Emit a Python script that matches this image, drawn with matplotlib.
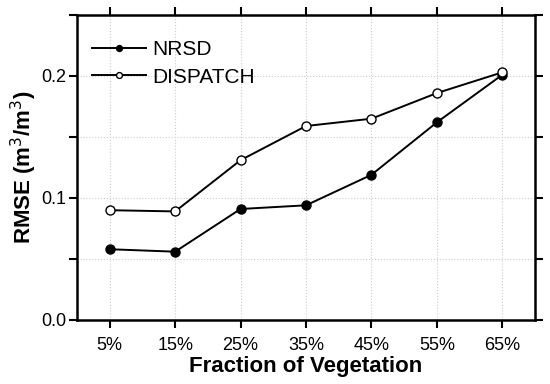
import matplotlib
matplotlib.use("Agg")
import matplotlib.pyplot as plt
import numpy as np

plt.rcParams['font.family'] = ['Liberation Sans', 'DejaVu Sans']

categories = ["5%", "15%", "25%", "35%", "45%", "55%", "65%"]
nrsd = [0.058, 0.056, 0.091, 0.094, 0.119, 0.162, 0.201]
dispatch = [0.090, 0.089, 0.131, 0.159, 0.165, 0.186, 0.203]

x = np.arange(len(categories))

fig = plt.figure(figsize=(5.5, 3.84), dpi=100)
ax = fig.add_axes([77/550, 1-320/384, (535-77)/550, (320-15)/384])

ax.plot(x, nrsd, "-o", color="black", lw=1.4, ms=6.5, mfc="black", label="NRSD")
ax.plot(x, dispatch, "-o", color="black", lw=1.4, ms=6.5, mfc="white", label="DISPATCH")

ax.set_xlim(-0.5, 6.5)
ax.set_ylim(0, 0.25)
ax.set_xticks(x)
ax.set_xticklabels(categories)
ax.set_yticks([0.0, 0.05, 0.1, 0.15, 0.2, 0.25])
ax.set_yticklabels(["0.0", "", "0.1", "", "0.2", ""])
ax.grid(True, ls=":", color="#cccccc", lw=0.8)
ax.set_axisbelow(True)

for s in ax.spines.values():
    s.set_linewidth(1.8)
ax.tick_params(direction="out", width=1.5, length=6, labelsize=13,
               top=True, right=True)
ax.tick_params(axis="x", pad=6)
ax.tick_params(axis="y", pad=2)

ax.set_xlabel("Fraction of Vegetation", fontsize=16, fontweight="bold", labelpad=2)
ax.set_ylabel("RMSE (m$^3$/m$^3$)", fontsize=16, fontweight="bold", labelpad=1)

ax.legend(loc="upper left", bbox_to_anchor=(0.015, 0.944), borderaxespad=0,
          frameon=False, fontsize=15, handlelength=2.6, markerscale=0.65,
          labelspacing=0.4, handletextpad=0.3)

fig.savefig("out.png", dpi=100)
